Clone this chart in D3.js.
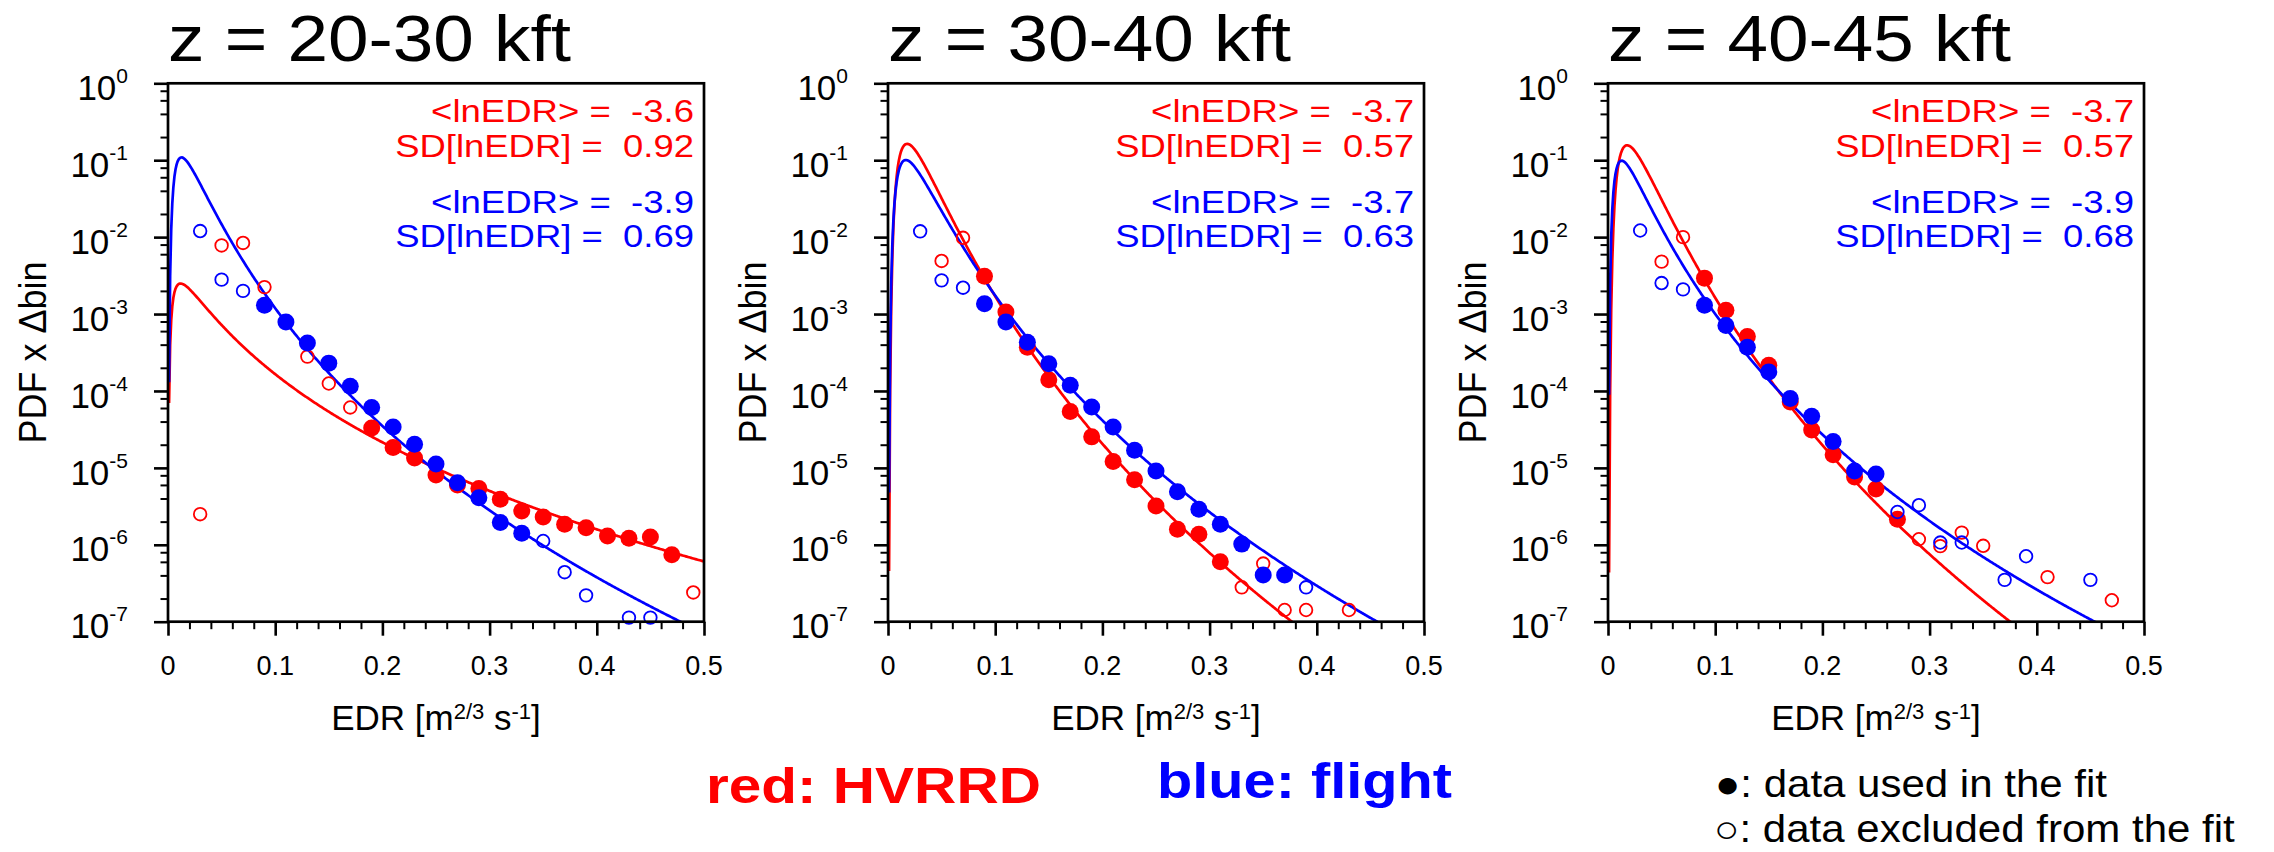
<!DOCTYPE html>
<html>
<head>
<meta charset="utf-8">
<script src="https://cdn.jsdelivr.net/npm/d3@7"></script>
<style>
  html, body { margin: 0; padding: 0; background: #fff; }
  svg { display: block; font-family: "Liberation Sans", Arial, Helvetica, sans-serif; }
  text { white-space: pre; }
</style>
</head>
<body>
<svg id="chart" width="2274" height="852"></svg>
<script>
// ---- panel metadata ----
const panelTitles = ["z = 20-30 kft", "z = 30-40 kft", "z = 40-45 kft"];

// lognormal fit parameters (mean and SD of ln EDR) and fit amplitude
const hvrrdMeanLn = [-3.6, -3.7, -3.7];
const hvrrdSdLn   = [0.92, 0.57, 0.57];
const hvrrdFitAmp = [0.00515, 0.245, 0.235];
const flightMeanLn = [-3.9, -3.7, -3.9];
const flightSdLn   = [0.69, 0.63, 0.68];
const flightFitAmp = [0.150, 0.161, 0.135];
const binWidth = 0.02;

// ---- binned PDF x Δbin, [EDR bin centre, value] ----
// z = 20-30 kft
const hvrrdUsed2030 = [[0.19,3.3e-5],[0.21,1.84e-5],[0.23,1.34e-5],[0.25,8.1e-6],[0.27,6.0e-6],[0.29,5.4e-6],
  [0.31,3.9e-6],[0.33,2.75e-6],[0.35,2.3e-6],[0.37,1.85e-6],[0.39,1.67e-6],[0.41,1.30e-6],[0.43,1.22e-6],
  [0.45,1.26e-6],[0.47,7.4e-7]];
const hvrrdExcl2030 = [[0.03,2.5e-6],[0.05,7.8e-3],[0.07,8.4e-3],[0.09,2.24e-3],[0.13,2.8e-4],[0.15,1.25e-4],
  [0.17,6.1e-5],[0.49,2.4e-7]];
const flightUsed2030 = [[0.09,1.3e-3],[0.11,7.9e-4],[0.13,4.2e-4],[0.15,2.3e-4],[0.17,1.15e-4],[0.19,6.1e-5],
  [0.21,3.4e-5],[0.23,2.03e-5],[0.25,1.12e-5],[0.27,6.4e-6],[0.29,4.1e-6],[0.31,1.95e-6],[0.33,1.41e-6]];
const flightExcl2030 = [[0.03,1.2e-2],[0.05,2.8e-3],[0.07,2.0e-3],[0.35,1.12e-6],[0.37,4.4e-7],[0.39,2.2e-7],
  [0.43,1.13e-7],[0.45,1.13e-7]];

// z = 30-40 kft
const hvrrdUsed3040 = [[0.09,3.1e-3],[0.11,1.06e-3],[0.13,3.7e-4],[0.15,1.4e-4],[0.17,5.4e-5],[0.19,2.53e-5],
  [0.21,1.21e-5],[0.23,7.0e-6],[0.25,3.2e-6],[0.27,1.59e-6],[0.29,1.37e-6],[0.31,6.0e-7]];
const hvrrdExcl3040 = [[0.05,4.9e-3],[0.07,9.8e-3],[0.33,2.8e-7],[0.35,5.7e-7],[0.37,1.42e-7],[0.39,1.42e-7],
  [0.43,1.42e-7]];
const flightUsed3040 = [[0.09,1.36e-3],[0.11,7.9e-4],[0.13,4.3e-4],[0.15,2.26e-4],[0.17,1.19e-4],[0.19,6.2e-5],
  [0.21,3.4e-5],[0.23,1.7e-5],[0.25,9.1e-6],[0.27,4.9e-6],[0.29,2.9e-6],[0.31,1.85e-6],[0.33,1.02e-6],
  [0.35,4.05e-7],[0.37,4.05e-7]];
const flightExcl3040 = [[0.03,1.19e-2],[0.05,2.74e-3],[0.07,2.2e-3],[0.39,2.8e-7]];

// z = 40-45 kft
const hvrrdUsed4045 = [[0.09,2.93e-3],[0.11,1.12e-3],[0.13,5.1e-4],[0.15,2.16e-4],[0.17,7.2e-5],[0.19,3.1e-5],
  [0.21,1.48e-5],[0.23,7.6e-6],[0.25,5.3e-6],[0.27,2.15e-6]];
const hvrrdExcl4045 = [[0.05,4.8e-3],[0.07,1.0e-2],[0.29,1.18e-6],[0.31,9.6e-7],[0.33,1.44e-6],[0.35,9.7e-7],
  [0.41,3.8e-7],[0.47,1.9e-7]];
const flightUsed4045 = [[0.09,1.30e-3],[0.11,7.1e-4],[0.13,3.7e-4],[0.15,1.77e-4],[0.17,8.0e-5],[0.19,4.7e-5],
  [0.21,2.2e-5],[0.23,9.1e-6],[0.25,8.3e-6]];
const flightExcl4045 = [[0.03,1.22e-2],[0.05,2.53e-3],[0.07,2.09e-3],[0.27,2.67e-6],[0.29,3.27e-6],[0.31,1.07e-6],
  [0.33,1.07e-6],[0.37,3.5e-7],[0.39,7.1e-7],[0.45,3.5e-7]];

// ---- axes ----
const xMajorTicks = [0, 0.1, 0.2, 0.3, 0.4, 0.5];
const xMinorTicks = d3.range(1, 25).filter(i => i % 5 !== 0).map(i => i * 0.02);
const yExponents = [0, -1, -2, -3, -4, -5, -6, -7];
const yMinorMantissas = [2, 4, 6, 8];

const legendText = ["red: HVRRD", "blue: flight"];
const markerText = ["\u25CF: data used in the fit", "\u25CB: data excluded from the fit"];

const RED = "#ff0000", BLUE = "#0000ff";

const panelSeries = [
  { hU: hvrrdUsed2030, hX: hvrrdExcl2030, fU: flightUsed2030, fX: flightExcl2030 },
  { hU: hvrrdUsed3040, hX: hvrrdExcl3040, fU: flightUsed3040, fX: flightExcl3040 },
  { hU: hvrrdUsed4045, hX: hvrrdExcl4045, fU: flightUsed4045, fX: flightExcl4045 }
];

// ---- layout ----
const plotLeft = [168, 888, 1608];
const plotTop = 83.3, plotW = 536, plotH = 538.4;

const svg = d3.select("#chart");
const x = d3.scaleLinear().domain([0, 0.5]).range([0, plotW]);
const y = d3.scaleLog().domain([1e-7, 1]).range([plotH, 0]);

// text whose horizontal extent is set to a given width
function fittedText(parent, tx, ty, str, opt) {
  const g = parent.append("g");
  const t = g.append("text").text(str)
    .attr("font-size", opt.size)
    .attr("text-anchor", opt.anchor || "start")
    .attr("font-weight", opt.weight || "normal")
    .attr("fill", opt.fill || "#000");
  const sx = opt.width ? opt.width / t.node().getComputedTextLength() : 1;
  g.attr("transform", `translate(${tx},${ty})` + (opt.rotate ? ` rotate(${opt.rotate})` : "") + ` scale(${sx},1)`);
  return t;
}

// lognormal PDF times bin width, evaluated on a fine EDR grid
const fitGrid = d3.range(1, 501).map(i => i / 1000);
function lognormalFit(mu, sd, amp) {
  return fitGrid.map(v => [v,
    amp * binWidth * Math.exp(-Math.pow(Math.log(v) - mu, 2) / (2 * sd * sd)) / (v * sd * Math.sqrt(2 * Math.PI))]);
}
const fitLine = d3.line().x(d => x(d[0])).y(d => y(Math.max(d[1], 1e-12)));

panelTitles.forEach((title, i) => {
  const p = svg.append("g").attr("transform", `translate(${plotLeft[i]},${plotTop})`);
  const s = panelSeries[i];

  p.append("clipPath").attr("id", "clip" + i)
    .append("rect").attr("width", plotW).attr("height", plotH);

  // fit curves
  const curves = p.append("g").attr("clip-path", `url(#clip${i})`);
  curves.append("path").datum(lognormalFit(hvrrdMeanLn[i], hvrrdSdLn[i], hvrrdFitAmp[i]))
    .attr("d", fitLine).attr("fill", "none").attr("stroke", RED).attr("stroke-width", 2.7);
  curves.append("path").datum(lognormalFit(flightMeanLn[i], flightSdLn[i], flightFitAmp[i]))
    .attr("d", fitLine).attr("fill", "none").attr("stroke", BLUE).attr("stroke-width", 2.7);

  // binned data: open = excluded from fit, filled = used in fit
  const drawOpen = (data, col) => p.append("g").selectAll("circle").data(data).join("circle")
    .attr("cx", d => x(d[0])).attr("cy", d => y(d[1])).attr("r", 6.3)
    .attr("fill", "none").attr("stroke", col).attr("stroke-width", 1.8);
  const drawFilled = (data, col) => p.append("g").selectAll("circle").data(data).join("circle")
    .attr("cx", d => x(d[0])).attr("cy", d => y(d[1])).attr("r", 8.5).attr("fill", col);
  drawOpen(s.hX, RED);
  drawFilled(s.hU, RED);
  drawOpen(s.fX, BLUE);
  drawFilled(s.fU, BLUE);

  // axes
  const styleAxis = (g, w) => { g.select(".domain").remove(); g.selectAll(".tick line").attr("stroke-width", w); };
  p.append("g").attr("transform", `translate(0,${plotH})`)
    .call(d3.axisBottom(x).tickValues(xMajorTicks).tickSize(14).tickFormat(""))
    .call(g => styleAxis(g, 2.6));
  p.append("g").attr("transform", `translate(0,${plotH})`)
    .call(d3.axisBottom(x).tickValues(xMinorTicks).tickSize(7.5).tickFormat(""))
    .call(g => styleAxis(g, 2));
  p.append("g")
    .call(d3.axisLeft(y).tickValues(yExponents.map(e => Math.pow(10, e))).tickSize(14).tickFormat(""))
    .call(g => styleAxis(g, 2.6));
  const yMinor = [];
  yExponents.slice(1).forEach(e => yMinorMantissas.forEach(m => yMinor.push(m * Math.pow(10, e))));
  p.append("g")
    .call(d3.axisLeft(y).tickValues(yMinor).tickSize(7.5).tickFormat(""))
    .call(g => styleAxis(g, 2));

  p.append("rect").attr("width", plotW).attr("height", plotH)
    .attr("fill", "none").attr("stroke", "#000").attr("stroke-width", 2.7);

  // tick labels
  p.append("g").selectAll("text").data(xMajorTicks).join("text")
    .attr("x", d => x(d)).attr("y", plotH + 53.5)
    .attr("text-anchor", "middle").attr("font-size", 27)
    .text(d => d === 0 ? "0" : d.toFixed(1));
  const yl = p.append("g").selectAll("text").data(yExponents).join("text")
    .attr("x", -40).attr("y", d => y(Math.pow(10, d)) + 16.7)
    .attr("text-anchor", "end");
  yl.append("tspan").attr("font-size", 35).text("10");
  yl.append("tspan").attr("font-size", 21).attr("dy", -17).text(d => String(d));

  // axis titles
  fittedText(p, -122, plotH / 2, "PDF x \u0394bin", { size: 38, anchor: "middle", rotate: -90, width: 182 });
  const xt = p.append("text").attr("x", plotW / 2).attr("y", plotH + 108.5)
    .attr("text-anchor", "middle").attr("font-size", 35);
  xt.append("tspan").text("EDR [m");
  xt.append("tspan").attr("font-size", 22).attr("dy", -11).text("2/3");
  xt.append("tspan").attr("dy", 11).text(" s");
  xt.append("tspan").attr("font-size", 22).attr("dy", -11).text("-1");
  xt.append("tspan").attr("dy", 11).text("]");

  // panel title
  fittedText(p, 0, 61 - plotTop, title, { size: 65, width: 403 });

  // fit statistics
  const ax = plotW - 10;
  fittedText(p, ax, 122 - plotTop, `<lnEDR> =  ${hvrrdMeanLn[i].toFixed(1)}`, { size: 31, anchor: "end", fill: RED, width: 263 });
  fittedText(p, ax, 157 - plotTop, `SD[lnEDR] =  ${hvrrdSdLn[i].toFixed(2)}`, { size: 31, anchor: "end", fill: RED, width: 299 });
  fittedText(p, ax, 213 - plotTop, `<lnEDR> =  ${flightMeanLn[i].toFixed(1)}`, { size: 31, anchor: "end", fill: BLUE, width: 263 });
  fittedText(p, ax, 247 - plotTop, `SD[lnEDR] =  ${flightSdLn[i].toFixed(2)}`, { size: 31, anchor: "end", fill: BLUE, width: 299 });
});

// legends
fittedText(svg, 706, 803, legendText[0], { size: 50, weight: "bold", fill: RED, width: 335 });
fittedText(svg, 1157, 798, legendText[1], { size: 50, weight: "bold", fill: BLUE, width: 295 });
fittedText(svg, 1715, 797, markerText[0], { size: 38, width: 392 });
fittedText(svg, 1714, 842, markerText[1], { size: 38, width: 521 });
</script>
</body>
</html>
